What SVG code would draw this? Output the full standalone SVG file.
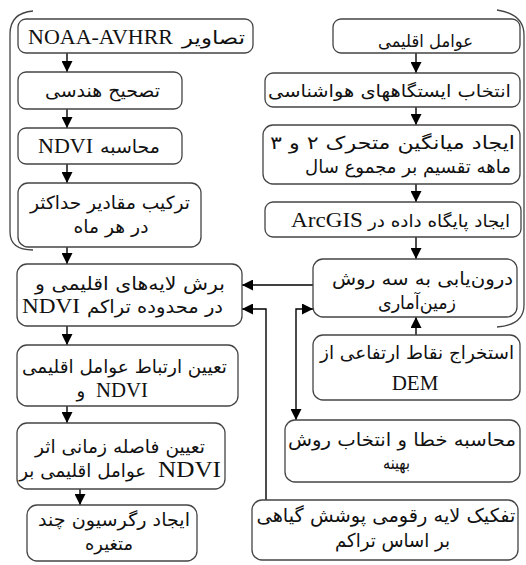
<svg xmlns="http://www.w3.org/2000/svg" width="526" height="565" viewBox="0 0 526 565">
<style>
.box{fill:#fff;stroke:#444;stroke-width:1.3}
.fa{font-family:"DejaVu Sans",sans-serif;font-size:18px;fill:#111;text-anchor:middle}
.s{font-size:17px}
.b{font-size:19px}
.la{font-family:"Liberation Serif",serif;font-size:21px}
.st{text-anchor:start}
.en{text-anchor:end}
.c{stroke:#000;stroke-width:1.4;fill:none}
.br{stroke:#444;stroke-width:1.3;fill:none}
</style>
<defs>
<marker id="ah" viewBox="0 0 10 10" refX="10" refY="5" markerWidth="11" markerHeight="11" markerUnits="userSpaceOnUse" orient="auto-start-reverse">
<path d="M0,0 L10,5 L0,10 z" fill="#000"/>
</marker>
</defs>
<rect width="526" height="565" fill="#fff"/>
<g id="brackets">
<path class="br" d="M33,11 Q10,13 10,34 L10,232 Q10,250 33,250"/>
<path class="br" d="M497,10 Q524,14 524,35 L524,305 Q524,325 497,327"/>
</g>
<g id="connectors">
<line class="c" x1="67" y1="53" x2="67" y2="72" marker-end="url(#ah)"/>
<line class="c" x1="67" y1="109" x2="67" y2="128" marker-end="url(#ah)"/>
<line class="c" x1="67" y1="164" x2="67" y2="183" marker-end="url(#ah)"/>
<line class="c" x1="67" y1="247" x2="67" y2="264" marker-end="url(#ah)"/>
<line class="c" x1="67" y1="326" x2="67" y2="345" marker-end="url(#ah)"/>
<line class="c" x1="67" y1="406" x2="67" y2="423" marker-end="url(#ah)"/>
<line class="c" x1="80" y1="489" x2="80" y2="505" marker-end="url(#ah)"/>
<line class="c" x1="416" y1="53" x2="416" y2="73" marker-end="url(#ah)"/>
<line class="c" x1="416" y1="107" x2="416" y2="125" marker-end="url(#ah)"/>
<line class="c" x1="416" y1="184" x2="416" y2="202" marker-end="url(#ah)"/>
<line class="c" x1="416" y1="237" x2="416" y2="259" marker-end="url(#ah)"/>
<line class="c" x1="416" y1="335" x2="416" y2="317" marker-end="url(#ah)"/>
<line class="c" x1="313" y1="285" x2="242" y2="285" marker-end="url(#ah)"/>
<path class="c" d="M266,500 L266,309 L242,309" marker-end="url(#ah)"/>
<path class="c" d="M313,309 L296,309 L296,420" marker-start="url(#ah)" marker-end="url(#ah)"/>
</g>
<g id="n1"><rect class="box" x="18" y="19" width="235" height="34" rx="8"/>
<text class="fa" y="44"><tspan class="la st" x="28" textLength="145" lengthAdjust="spacingAndGlyphs">NOAA-AVHRR</tspan> <tspan class="en" x="245" textLength="63" lengthAdjust="spacingAndGlyphs">تصاویر</tspan></text></g>
<g id="n2"><rect class="box" x="18" y="72" width="164" height="37" rx="8"/>
<text class="fa" x="102.5" y="97" textLength="115" lengthAdjust="spacingAndGlyphs">تصحیح هندسی</text></g>
<g id="n3"><rect class="box" x="18" y="128" width="164" height="36" rx="8"/>
<text class="fa" y="153"><tspan class="la st" x="38" textLength="55" lengthAdjust="spacingAndGlyphs">NDVI</tspan> <tspan class="en" x="160" textLength="60" lengthAdjust="spacingAndGlyphs">محاسبه</tspan></text></g>
<g id="n4"><rect class="box" x="18" y="183" width="183" height="64" rx="10"/>
<text class="fa" x="110" y="209" textLength="160" lengthAdjust="spacingAndGlyphs">ترکیب مقادیر حداکثر</text>
<text class="fa" x="111" y="233" textLength="75" lengthAdjust="spacingAndGlyphs">در هر ماه</text></g>
<g id="n5"><rect class="box" x="17" y="264" width="225" height="62" rx="10"/>
<text class="fa" x="130" y="290" textLength="190" lengthAdjust="spacingAndGlyphs">برش لایه‌های اقلیمی و</text>
<text class="fa" y="313"><tspan class="la st" x="22" textLength="58" lengthAdjust="spacingAndGlyphs">NDVI</tspan> <tspan class="en" x="223" textLength="136" lengthAdjust="spacingAndGlyphs">در محدوده تراکم</tspan></text></g>
<g id="n6"><rect class="box" x="17" y="345" width="221" height="61" rx="10"/>
<text class="fa" x="124.5" y="373" textLength="205" lengthAdjust="spacingAndGlyphs">تعیین ارتباط عوامل اقلیمی</text>
<text class="fa" y="397"><tspan class="en" x="91">و</tspan> <tspan class="la st" x="96" textLength="52" lengthAdjust="spacingAndGlyphs">NDVI</tspan></text></g>
<g id="n7"><rect class="box" x="17" y="423" width="208" height="66" rx="10"/>
<text class="fa" x="120" y="453" textLength="170" lengthAdjust="spacingAndGlyphs">تعیین فاصله زمانی اثر</text>
<text class="fa" y="477"><tspan class="en" x="152" textLength="127" lengthAdjust="spacingAndGlyphs">عوامل اقلیمی بر</tspan> <tspan class="la st" x="158" style="font-size:24px" textLength="63" lengthAdjust="spacingAndGlyphs">NDVI</tspan></text></g>
<g id="n8"><rect class="box" x="27" y="505" width="170" height="56" rx="10"/>
<text class="fa" x="114" y="526" textLength="152" lengthAdjust="spacingAndGlyphs">ایجاد رگرسیون چند</text>
<text class="fa" x="109" y="550" textLength="48" lengthAdjust="spacingAndGlyphs">متغیره</text></g>
<g id="r1"><rect class="box" x="333" y="19" width="187" height="34" rx="8"/>
<text class="fa s" x="425.5" y="47" textLength="95" lengthAdjust="spacingAndGlyphs">عوامل اقلیمی</text></g>
<g id="r2"><rect class="box" x="265" y="73" width="255" height="34" rx="8"/>
<text class="fa s" x="389.5" y="97" textLength="243" lengthAdjust="spacingAndGlyphs">انتخاب ایستگاههای هواشناسی</text></g>
<g id="r3"><rect class="box" x="263" y="125" width="257" height="59" rx="10"/>
<text class="fa" x="392.5" y="149" textLength="245" lengthAdjust="spacingAndGlyphs">ایجاد میانگین متحرک ۲ و ۳</text>
<text class="fa" x="408" y="173" textLength="206" lengthAdjust="spacingAndGlyphs">ماهه تقسیم بر مجموع سال</text></g>
<g id="r4"><rect class="box" x="265" y="202" width="256" height="35" rx="8"/>
<text class="fa s" y="227"><tspan class="la st" x="291" textLength="72" lengthAdjust="spacingAndGlyphs">ArcGIS</tspan> <tspan class="en" x="510" textLength="142" lengthAdjust="spacingAndGlyphs">ایجاد پایگاه داده در</tspan></text></g>
<g id="r5"><rect class="box" x="313" y="259" width="204" height="58" rx="10"/>
<text class="fa" x="422.5" y="285" textLength="181" lengthAdjust="spacingAndGlyphs">درون‌یابی به سه روش</text>
<text class="fa" x="417" y="309" textLength="78" lengthAdjust="spacingAndGlyphs">زمین‌آماری</text></g>
<g id="r6"><rect class="box" x="313" y="335" width="207" height="65" rx="10"/>
<text class="fa" x="417" y="359" textLength="194" lengthAdjust="spacingAndGlyphs">استخراج نقاط ارتفاعی از</text>
<text class="fa la" x="415" y="390">DEM</text></g>
<g id="r7"><rect class="box" x="285" y="420" width="235" height="62" rx="10"/>
<text class="fa" x="402" y="446" textLength="228" lengthAdjust="spacingAndGlyphs">محاسبه خطا و انتخاب روش</text>
<text class="fa" x="396.5" y="469" textLength="27" lengthAdjust="spacingAndGlyphs">بهینه</text></g>
<g id="r8"><rect class="box" x="252" y="500" width="266" height="60" rx="10"/>
<text class="fa b" x="386" y="522" textLength="259" lengthAdjust="spacingAndGlyphs">تفکیک لایه رقومی پوشش گیاهی</text>
<text class="fa b" x="392.5" y="547" textLength="115" lengthAdjust="spacingAndGlyphs">بر اساس تراکم</text></g>
</svg>
